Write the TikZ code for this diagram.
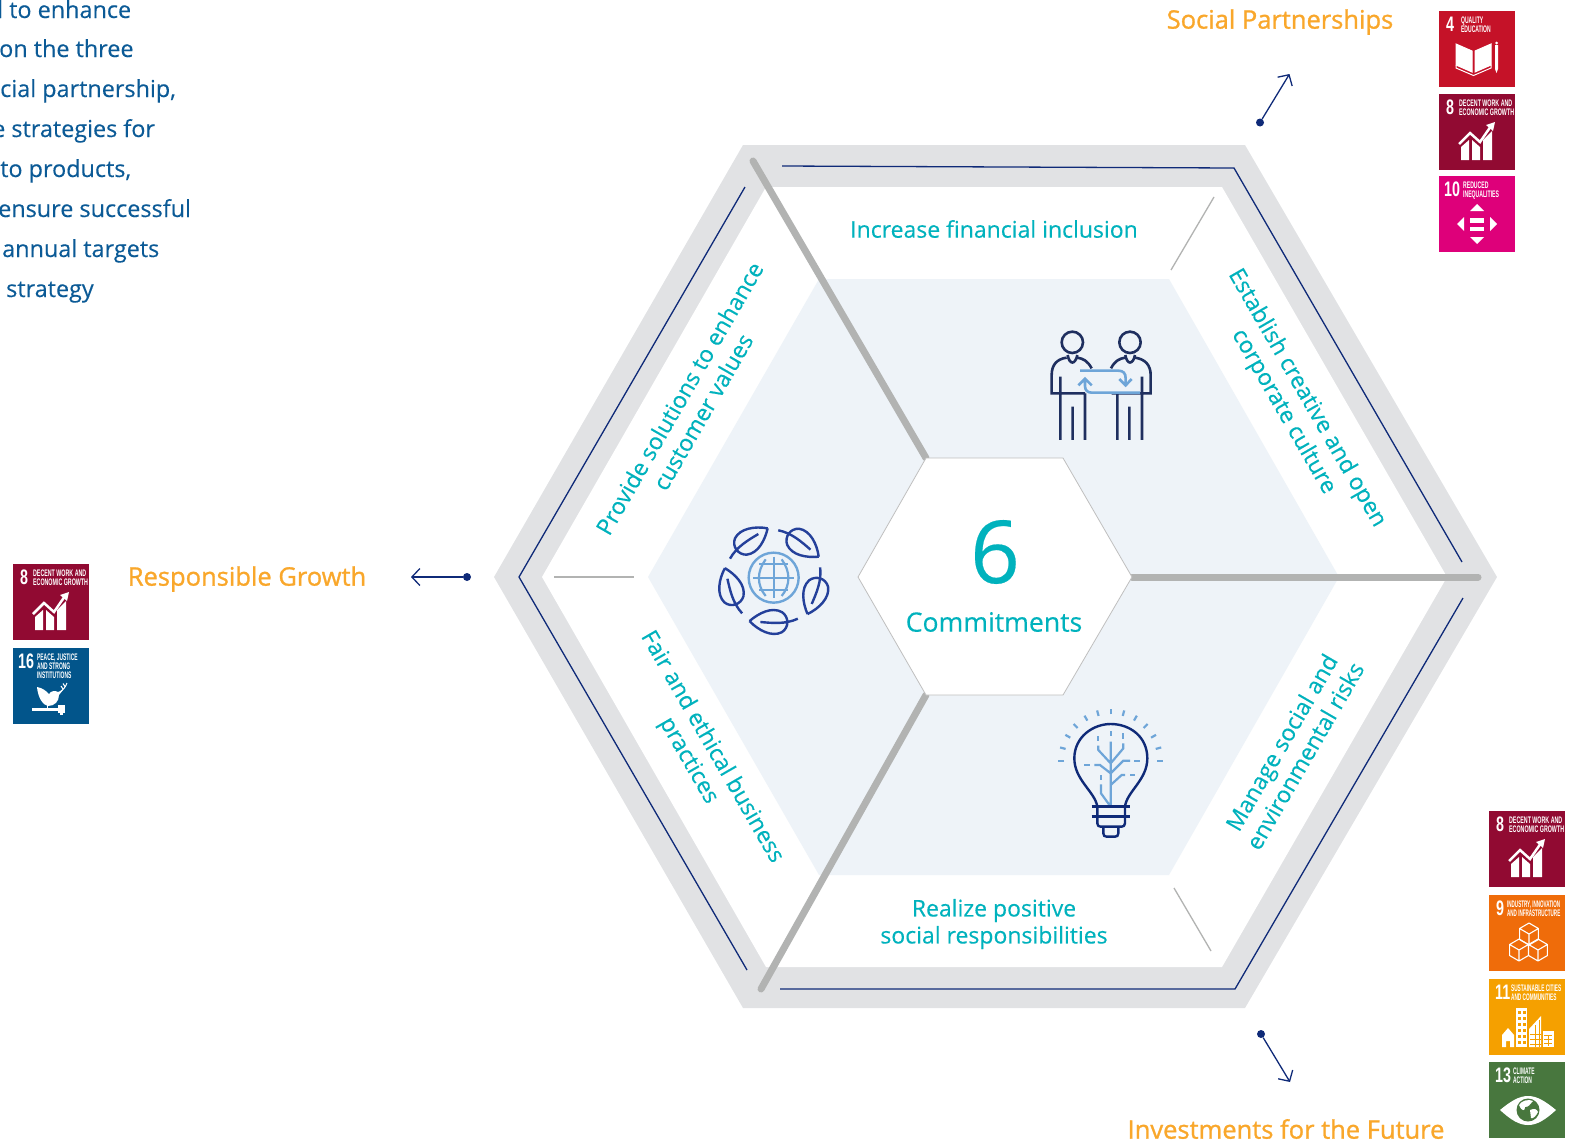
\documentclass[tikz,border=0pt]{standalone}
\usepackage{fontspec}
\usepackage{xcolor}
\setmainfont{Open Sans}[FakeBold=0.25]
\newfontfamily\pillarfont{Open Sans}[FakeBold=1.1]
\newfontfamily\tilefont{Liberation Sans}[BoldFont=* Bold]
\usetikzlibrary{arrows.meta,positioning,calc}

\definecolor{bandgrey}{HTML}{E1E2E4}
\definecolor{palehex}{HTML}{EEF3F8}
\definecolor{spokegrey}{HTML}{B2B3B2}
\definecolor{navyline}{HTML}{0F2A78}
\definecolor{iconnavy}{HTML}{1F2F5F}
\definecolor{leafblue}{HTML}{24409A}
\definecolor{skyline}{HTML}{6EA5D8}
\definecolor{tealtext}{HTML}{00B2BD}
\definecolor{orangetext}{HTML}{F9A72B}
\definecolor{bodyblue}{HTML}{0B5A96}
\definecolor{sdgfour}{HTML}{C51228}
\definecolor{sdgeight}{HTML}{910A32}
\definecolor{sdgnine}{HTML}{EF6C0A}
\definecolor{sdgten}{HTML}{DE007A}
\definecolor{sdgeleven}{HTML}{F5A000}
\definecolor{sdgthirteen}{HTML}{48773E}
\definecolor{sdgsixteen}{HTML}{02558B}

\tikzset{
  tilebox/.style={inner sep=0,outer sep=0,minimum size=76,anchor=north west},
  tilenum/.style={inner sep=0,anchor=north west,transform shape,text=white,font=\tilefont\bfseries\fontsize{21}{21}\selectfont},
  tilecap/.style={inner sep=0,anchor=north west,align=left,transform shape,text=white,font=\tilefont\bfseries\fontsize{9.5}{9}\selectfont},
  commit/.style={text=tealtext,align=center,inner sep=0,font=\fontsize{23}{27}\selectfont},
  pillar/.style={text=orangetext,inner sep=0,font=\pillarfont\fontsize{25.5}{30}\selectfont},
  bodyline/.style={text=bodyblue,inner sep=0,anchor=base west,font=\fontsize{23.4}{30}\selectfont},
  spoke/.style={spokegrey,line width=7,line cap=round},
  thinspoke/.style={spokegrey,line width=1.3},
  frameline/.style={navyline,line width=1.3},
  pointer/.style={navyline,line width=1.3,-{Straight Barb[length=8,width=17]}},
  enddot/.style={circle,fill=navyline,inner sep=0,minimum size=8},
  sdggrowth/.pic={
    \fill[white] (22,66) -- (22,53) -- (30,46) -- (30,66) -- cycle;
    \fill[white] (33,66) -- (33,46) -- (41,53) -- (41,66) -- cycle;
    \fill[white] (44,66) -- (44,46) -- (53,37) -- (53,66) -- cycle;
    \draw[white,line width=2.5] (20,50) -- (31,39) -- (41,48) -- (52,32);
    \fill[white] (56,28) -- (47,31) -- (54,37) -- cycle;
  },
  sdgbook/.pic={
    \draw[white,line width=1,fill=white] (17,33) -- (33,40) -- (33,61) -- (17,54) -- cycle;
    \draw[white,line width=1,fill=white] (52,33) -- (36,40) -- (36,61) -- (52,54) -- cycle;
    \draw[white,line width=1] (17,54) -- (17,57) -- (34.5,64.5) -- (52,57) -- (52,54);
    \fill[white] (56,34) rectangle (59,58) -- (57.5,62) -- (56,58) -- cycle;
    \fill[white] (57.5,32) circle (1.5);
  },
  sdgarrows/.pic={
    \fill[white] (38,28) -- (31,35) -- (45,35) -- cycle;
    \fill[white] (38,68) -- (31,61) -- (45,61) -- cycle;
    \fill[white] (18,48) -- (25,41) -- (25,55) -- cycle;
    \fill[white] (58,48) -- (51,41) -- (51,55) -- cycle;
    \fill[white] (31,42) rectangle (45,46.5);
    \fill[white] (31,50.5) rectangle (45,55);
  },
  sdgcubes/.pic={
    \foreach \cx/\cy in {40/39,30/55,49/55}
      \draw[white,line width=1.1,line join=round,shift={(\cx,\cy)}] (0,-11) -- (9.4,-5.5) -- (9.4,5.5) -- (0,11) -- (-9.4,5.5) -- (-9.4,-5.5) -- cycle
        (-9.4,-5.5) -- (0,0) -- (9.4,-5.5) (0,0) -- (0,11);
  },
  sdgcity/.pic={
    % house
    \fill[white] (13,68) -- (13,56) -- (19,49) -- (25,56) -- (25,68) -- (21,68) -- (21,62) -- (17,62) -- (17,68) -- cycle;
    % tower
    \fill[white] (27,29) rectangle (38,68);
    \foreach \wy in {32,38,44,50,56,62}
      \foreach \wx in {29,34}
        \fill[sdgeleven] (\wx,\wy) rectangle ++(3,3);
    % sail
    \fill[white] (40,68) -- (40,50) -- (52,37) -- (52,68) -- cycle;
    \draw[sdgeleven,line width=.8] (41,55) -- (52,55) (41,60) -- (52,60) (41,65) -- (52,65) (46,46) -- (46,68) (50,41) -- (50,68);
    % block
    \fill[white] (53.5,52) rectangle (64.5,68);
    \draw[sdgeleven,line width=.8] (55,56) -- (63,56) (55,60) -- (63,60) (55,64) -- (63,64) (59,56) -- (59,67);
  },
  sdgeye/.pic={
    \fill[white] (11,48) .. controls (22,39) and (30,34) .. (39,34) .. controls (48,34) and (56,39) .. (67,48) .. controls (56,58) and (48,63) .. (39,63) .. controls (30,63) and (22,58) .. (11,48) -- cycle;
    \fill[sdgthirteen] (39,48) circle (11.5);
    \fill[white] (30,43) .. controls (33,38) and (40,37) .. (44,39) .. controls (41,42) and (40,45) .. (36,45) .. controls (36,49) and (33,50) .. (30,43) -- cycle;
    \fill[white] (41,48) .. controls (45,46) and (48,47) .. (49,50) .. controls (47,54) and (44,57) .. (42,56) -- cycle;
  },
  sdgdove/.pic={
    \fill[white] (24,39) .. controls (30,40) and (33,43) .. (36,46) .. controls (38,43) and (42,42) .. (45,44) -- (50,42) -- (46,47) .. controls (46,53) and (42,58) .. (35,58) .. controls (30,57) and (25,50) .. (24,39) -- cycle;
    \draw[white,line width=1] (47,44) .. controls (50,42) and (52,40) .. (54,35) (50,41) -- (48,38) (52,38.5) -- (50,35.5);
    \draw[white,line width=1] (34,57) -- (34,61);
    \fill[white] (19,60) rectangle (45,62.5);
    \fill[white] (45,57) rectangle (52,65);
    \fill[white] (47,65) rectangle (50,67);
  }
}

\begin{document}
\begin{tikzpicture}[x=1pt,y=-1pt]
\useasboundingbox (0,0) rectangle (1576,1144);

% Hexagon bands
\fill[bandgrey] (743,145) -- (1245,145) -- (1497,577) -- (1245,1008) -- (743,1008) -- (494,577) -- cycle;
\fill[white] (766,187) -- (1222,187) -- (1447,577) -- (1222,967) -- (766,967) -- (542,577) -- cycle;
\fill[palehex] (819,279) -- (1169,279) -- (1339,577) -- (1169,875) -- (819,875) -- (648,577) -- cycle;

% Corner points of the spokes
\coordinate (upperhub) at (926,458);
\coordinate (upperrim) at (753,161);
\coordinate (righthub) at (1132,577);
\coordinate (rightrim) at (1478,577);
\coordinate (lowerhub) at (926,695);
\coordinate (lowerrim) at (761,989);
\draw[spoke] (upperhub) -- (upperrim);
\draw[spoke] (righthub) -- (rightrim);
\draw[spoke] (lowerhub) -- (lowerrim);

% Centre hexagon
\draw[fill=white,draw=black!25,line width=.8] (926,458) -- (1063,458) -- (1132,577) -- (1063,695) -- (926,695) -- (858,577) -- cycle;
\node[text=tealtext,inner sep=0,font=\fontsize{87}{87}\selectfont] (six) at (995,552) {6};
\node[text=tealtext,inner sep=0,font=\fontsize{26.6}{32}\selectfont] (commitments) at (994,622) {Commitments};

% Navy frame lines
\coordinate (topa) at (782,166);
\coordinate (topb) at (1234,168);
\coordinate (topc) at (1462,562);
\draw[frameline] (topa) -- (topb) -- (topc);
\coordinate (lowa) at (1463,598);
\coordinate (lowb) at (1235,989);
\coordinate (lowc) at (780,989);
\draw[frameline] (lowa) -- (lowb) -- (lowc);
\coordinate (lefta) at (745,187);
\coordinate (leftb) at (519,577);
\coordinate (leftc) at (747,970);
\draw[frameline] (lefta) -- (leftb) -- (leftc);

% Short grey dividers
\coordinate (diva) at (1171,270);
\coordinate (divb) at (1214,197);
\draw[thinspoke] (diva) -- (divb);
\coordinate (divc) at (1174,888);
\coordinate (divd) at (1211,951);
\draw[thinspoke] (divc) -- (divd);
\coordinate (dive) at (554,577);
\coordinate (divf) at (634,577);
\draw[thinspoke] (dive) -- (divf);

% Commitments around the ring
\node[commit] (inclusion) at (994,229) {Increase financial inclusion};
\node[commit,rotate=-60] (culture) at (1295,405) {Establish creative and open\\corporate culture};
\node[commit,rotate=60] (risks) at (1293,749) {Manage social and\\environmental risks};
\node[commit] (social) at (994,924) {Realize positive\\social responsibilities};
\node[commit,rotate=-60] (fair) at (700,754) {Fair and ethical business\\practices};
\node[commit,rotate=60] (customer) at (691,405) {Provide solutions to enhance\\customer values};

% People icon
\begin{scope}[shift={(1030,310)},scale=0.3333]
  \draw[iconnavy,line width=2.6] (127,97) circle (32) (300,97) circle (32);
  \draw[iconnavy,line width=2.6] (113,135) .. controls (118,165) and (136,165) .. (142,135);
  \draw[iconnavy,line width=2.6] (286,135) .. controls (291,165) and (309,165) .. (315,135);
  \draw[iconnavy,line width=2.6] (185,175) .. controls (172,152) and (160,146) .. (142,143) (110,143) .. controls (80,147) and (65,165) .. (65,195) -- (65,250) -- (165,250) (91,200) -- (91,390) (165,250) -- (165,390) (128,290) -- (128,390);
  \draw[iconnavy,line width=2.6] (243,175) .. controls (255,152) and (268,146) .. (285,143) (315,143) .. controls (345,147) and (362,165) .. (362,195) -- (362,250) -- (245,250) (262,250) -- (262,390) (298,290) -- (298,390) (336,200) -- (336,390);
  \draw[skyline,line width=2.6,line join=miter] (150,182) -- (265,182) .. controls (280,182) and (287,190) .. (287,205) -- (287,225) (268,207) -- (287,226) -- (305,207);
  \draw[skyline,line width=2.6] (330,248) -- (185,248) .. controls (172,248) and (165,240) .. (165,228) -- (165,207) (145,226) -- (165,206) -- (185,226);
\end{scope}

% Leaves and globe icon
\begin{scope}[shift={(700,510)},scale=0.3333]
  \foreach \ang in {0,72,144,216,288}
    \draw[leafblue,line width=2.4,rotate around={-\ang:(221,203)}] (203,55) .. controls (165,48) and (120,55) .. (105,85) .. controls (95,110) and (115,135) .. (140,134) .. controls (175,130) and (195,90) .. (203,55) (175,72) .. controls (145,90) and (110,110) .. (90,146);
  \draw[skyline,line width=2.4] (221,203) circle (75);
  \draw[skyline,line width=2.2] (160,203) -- (282,203) (178,163) -- (265,163) (178,241) -- (265,241) (221,140) -- (221,265);
  \draw[skyline,line width=2.2] (197,148) .. controls (170,185) and (170,225) .. (197,258) (245,148) .. controls (272,185) and (272,225) .. (245,258);
\end{scope}

% Light bulb icon
\begin{scope}[shift={(1040,695)},scale=0.3333]
  \foreach \ang in {0,15,...,180}
    \draw[skyline,line width=2.2] ({212+140*cos(\ang)},{198-140*sin(\ang)}) -- ({212+157*cos(\ang)},{198-157*sin(\ang)});
  \draw[skyline,line width=2.2] (212,140) -- (212,335) (212,205) -- (175,165) -- (175,152) (212,205) -- (250,160) -- (250,145) (212,235) -- (180,210) -- (163,210) (212,235) -- (250,197) -- (270,197) (212,270) -- (245,240) -- (255,240) (212,335) -- (183,295) -- (183,268);
  \draw[skyline,line width=2.2] (212,108) -- (212,122) (175,124) -- (175,138) (250,115) -- (250,132) (133,210) -- (150,210) (283,197) -- (300,197) (270,240) -- (285,240) (183,240) -- (183,255);
  \draw[navyline,line width=2.4,line join=round] (172,385) -- (172,335) .. controls (165,290) and (103,255) .. (103,190) .. controls (103,125) and (160,87) .. (212,87) .. controls (270,87) and (322,125) .. (322,190) .. controls (322,255) and (260,290) .. (255,335) -- (255,385) .. controls (255,392) and (250,395) .. (245,395) -- (182,395) .. controls (176,395) and (172,392) .. (172,385);
  \draw[navyline,line width=2.4] (190,395) -- (190,415) .. controls (190,422) and (194,425) .. (200,425) -- (225,425) .. controls (231,425) and (235,422) .. (235,415) -- (235,395);
  \draw[navyline,line width=2.4] (155,335) -- (270,335) (155,365) -- (270,365);
\end{scope}

% Pillar labels and their pointers
\node[pillar] (partnerships) at (1280,22) {Social Partnerships};
\node[pillar] (growth) at (247,579) {Responsible Growth};
\node[pillar] (future) at (1286,1129) {Investments for the Future};
\node[enddot] (sociald) at (1260,122.5) {};
\coordinate (socialt) at (1289.5,74);
\draw[pointer] (sociald) -- (socialt);
\node[enddot] (growthd) at (467,577) {};
\coordinate (growtht) at (411,577);
\draw[pointer] (growthd) -- (growtht);
\node[enddot] (futured) at (1261,1034) {};
\coordinate (futuret) at (1290,1082);
\draw[pointer] (futured) -- (futuret);

% Paragraph cut by the page edge
\foreach \nm/\px/\py/\txt in {la/-3/18/{l to enhance},lb/-1/57/{on the three},lc/0/97/{cial partnership,},ld/-8/137/{e strategies for},le/0/177/{to products,},lf/-2/217/{ensure successful},lg/2/257/{annual targets},lh/6/297/{strategy}}
  \node[bodyline] (\nm) at (\px,\py) {\txt};

% SDG tiles
\foreach \nm/\tx/\ty/\col/\num/\nx/\cx/\sx/\cap/\icon in {
  ta/1439/11/sdgfour/4/7/22/.53/{QUALITY\\EDUCATION}/sdgbook,
  tb/1439/94/sdgeight/8/7/20/.56/{DECENT WORK AND\\ECONOMIC GROWTH}/sdggrowth,
  tc/1439/176/sdgten/10/5/24/.54/{REDUCED\\INEQUALITIES}/sdgarrows,
  td/13/564/sdgeight/8/7/20/.56/{DECENT WORK AND\\ECONOMIC GROWTH}/sdggrowth,
  te/13/648/sdgsixteen/16/5/24/.52/{PEACE, JUSTICE\\AND STRONG\\INSTITUTIONS}/sdgdove,
  tf/1489/811/sdgeight/8/7/20/.56/{DECENT WORK AND\\ECONOMIC GROWTH}/sdggrowth,
  tg/1489/895/sdgnine/9/7/18/.48/{INDUSTRY, INNOVATION\\AND INFRASTRUCTURE}/sdgcubes,
  th/1489/979/sdgeleven/11/6/22/.50/{SUSTAINABLE CITIES\\AND COMMUNITIES}/sdgcity,
  ti/1489/1062/sdgthirteen/13/6/24/.52/{CLIMATE\\ACTION}/sdgeye}
{
  \node[tilebox,fill=\col] (\nm) at (\tx,\ty) {};
  \node[tilenum,xscale=.68] (\nm num) at (\tx+\nx,\ty+6) {\num};
  \node[tilecap,xscale=\sx] (\nm cap) at (\tx+\cx,\ty+6) {\cap};
  \pic at (\tx,\ty) {\icon};
}
\end{tikzpicture}
\end{document}
